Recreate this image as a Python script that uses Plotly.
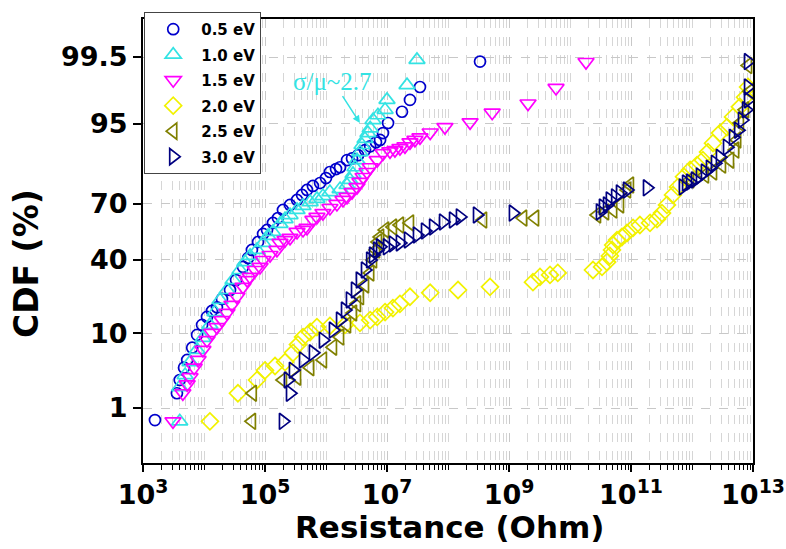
import plotly.graph_objects as go
from statistics import NormalDist

# ---------------- data (Resistance in Ohm, CDF in %) ----------------
r_05 = [1.57e3, 3.6e3, 4.0e3, 4.7e3, 5.3e3, 6.4e3, 7.7e3, 9.3e3, 1.12e4, 1.35e4, 1.63e4, 1.97e4,
        2.67e4, 3.35e4, 4.36e4, 5.3e4, 6.1e4, 7.7e4, 9.3e4, 1.08e5, 1.35e5, 1.63e5, 1.97e5, 2.57e5,
        3.35e5, 4.05e5, 4.88e5, 6.1e5, 8.0e5, 1.0e6, 1.16e6, 1.46e6, 1.70e6, 2.21e6, 2.67e6, 3.35e6,
        4.36e6, 5.3e6, 6.6e6, 7.7e6, 8.6e6, 1.04e7, 1.76e7, 2.38e7, 3.47e7, 3.35e8]
cdf_05 = [0.63, 1.7, 2.65, 3.9, 4.9, 6.9, 9.6, 12.2, 14.6, 16.6, 17.9, 21.1,
          24.9, 29.5, 36.1, 40.9, 45.3, 49.7, 54.2, 56.4, 60.2, 62.8, 67.0, 69.5,
          71.9, 74.2, 76.4, 78.1, 79.3, 81.2, 83.4, 84.4, 85.0, 87.2, 87.7, 88.6,
          89.9, 90.8, 91.7, 92.2, 93.5, 95.1, 96.5, 97.6, 98.45, 99.4]

r_10 = [4.0e3, 4.0e3, 4.9e3, 5.9e3, 7.7e3, 9.6e3, 1.25e4, 1.51e4, 1.83e4, 2.38e4, 2.99e4, 3.89e4,
        4.7e4, 5.7e4, 7.4e4, 9.3e4, 1.12e5, 1.35e5, 1.76e5, 2.13e5, 2.57e5, 3.35e5, 4.2e5, 5.5e5,
        7.1e5, 8.9e5, 1.16e6, 1.70e6, 2.21e6, 2.47e6, 2.77e6, 2.99e6, 3.22e6, 3.6e6, 3.89e6, 4.36e6,
        4.88e6, 5.3e6, 5.9e6, 7.1e6, 9.3e6, 1.0e7, 2.13e7, 3.10e7]
cdf_10 = [0.6, 2.1, 3.1, 4.6, 6.5, 8.9, 12.2, 16.2, 20.7, 24.9, 29.5, 34.5,
          38.7, 42.0, 45.3, 49.2, 53.1, 55.3, 59.7, 62.3, 64.4, 67.0, 69.0, 70.9,
          72.4, 73.7, 75.5, 76.8, 78.5, 80.5, 82.7, 85.0, 87.2, 89.4, 91.1, 92.4,
          93.5, 94.3, 95.5, 96.1, 96.7, 97.6, 98.55, 99.44]

r_15 = [3.1e3, 4.5e3, 5.3e3, 5.9e3, 6.9e3, 8.0e3, 9.6e3, 1.12e4, 1.35e4, 1.63e4, 1.97e4, 2.38e4,
        2.87e4, 3.47e4, 4.36e4, 5.1e4, 5.7e4, 6.9e4, 8.3e4, 9.3e4, 1.21e5, 1.57e5, 1.76e5, 2.13e5,
        2.57e5, 3.35e5, 4.2e5, 4.88e5, 6.1e5, 7.1e5, 8.9e5, 1.16e6, 1.51e6, 1.90e6, 2.21e6, 2.67e6,
        3.22e6, 3.6e6, 4.05e6, 4.7e6, 5.3e6, 6.9e6, 8.6e6, 1.12e7, 1.35e7, 1.63e7, 1.97e7, 2.38e7,
        2.87e7, 3.47e7, 5.1e7, 8.9e7, 2.30e8, 5.3e8, 2.05e9, 5.9e9, 1.83e10]
cdf_15 = [0.6, 1.7, 2.3, 2.9, 3.9, 4.9, 6.5, 8.4, 10.1, 11.6, 13.6, 15.9,
          18.8, 22.0, 26.3, 29.5, 31.0, 34.5, 36.1, 39.8, 42.5, 45.3, 49.2, 50.8,
          52.0, 55.3, 56.4, 57.5, 61.8, 63.4, 65.4, 68.0, 70.0, 71.9, 73.3, 75.5,
          77.6, 79.7, 81.6, 83.4, 85.0, 87.2, 89.1, 89.6, 89.9, 90.4, 90.8, 91.7,
          92.2, 92.7, 93.6, 94.5, 95.2, 96.4, 97.3, 98.4, 99.39]

r_20 = [1.25e4, 3.6e4, 7.4e4, 1.0e5, 1.46e5, 2.13e5, 2.87e5, 3.47e5, 4.2e5, 5.5e5, 7.1e5, 1.16e6,
        2.05e6, 3.6e6, 5.3e6, 6.9e6, 9.3e6, 1.25e7, 1.63e7, 2.38e7, 5.1e7, 1.46e8, 4.88e8, 2.47e9,
        3.22e9, 4.7e9, 6.3e9, 2.38e10, 3.35e10, 4.05e10, 4.5e10, 4.88e10, 5.1e10, 5.9e10, 7.1e10, 8.6e10,
        1.08e11, 1.40e11, 2.05e11, 2.67e11, 3.22e11, 3.89e11, 4.88e11, 5.9e11, 7.4e11, 9.3e11, 1.21e12,
        1.51e12, 1.83e12, 2.21e12, 2.87e12, 3.75e12, 4.7e12, 6.1e12, 7.4e12, 8.3e12]
cdf_20 = [0.6, 1.7, 2.65, 3.6, 4.1, 4.6, 6.0, 7.5, 9.1, 10.3, 11.6, 11.9,
          12.2, 12.8, 13.6, 14.6, 16.2, 17.6, 19.2, 22.0, 23.7, 24.9, 26.3, 28.5,
          31.0, 32.0, 33.0, 34.5, 36.1, 38.7, 42.0, 45.3, 48.0, 50.8, 52.5, 54.7,
          57.5, 59.1, 60.2, 62.3, 65.4, 69.5, 74.2, 77.7, 81.7, 84.1, 85.7,
          87.2, 89.4, 91.5, 93.5, 94.5, 95.9, 97.0, 97.8, 98.45]

r_25 = [6.1e4, 6.3e4, 1.97e5, 3.35e5, 5.5e5, 8.9e5, 1.30e6, 1.70e6, 2.21e6, 2.77e6, 3.22e6, 3.6e6,
        4.36e6, 5.3e6, 5.9e6, 6.6e6, 7.1e6, 7.7e6, 9.3e6, 1.25e7, 1.63e7, 2.38e7, 3.75e8, 1.70e9,
        2.67e9, 2.77e10, 3.75e10, 5.1e10, 6.6e10, 8.6e10, 9.6e10, 9.3e11, 1.63e12, 2.21e12, 3.10e12,
        4.2e12, 5.1e12, 5.5e12, 6.1e12, 7.4e12, 8.9e12, 8.3e12]
cdf_25 = [0.6, 1.7, 2.65, 2.9, 3.9, 4.9, 7.0, 9.1, 12.2, 15.9, 19.2, 22.0,
          27.2, 33.0, 39.8, 45.3, 49.7, 52.5, 56.4, 58.0, 59.1, 60.2, 61.8, 62.8,
          62.8, 64.4, 66.0, 67.0, 69.5, 76.4, 78.5, 80.5, 82.3, 83.4, 85.7,
          87.2, 89.9, 92.2, 95.1, 96.7, 98.2, 99.3]

r_30 = [1.97e5, 2.57e5, 2.38e5, 2.87e5, 4.2e5, 6.1e5, 8.9e5, 1.30e6, 1.70e6, 2.05e6, 2.47e6, 2.99e6,
        3.6e6, 4.36e6, 5.3e6, 5.9e6, 6.9e6, 7.7e6, 1.0e7, 1.25e7, 1.63e7, 2.21e7, 3.10e7, 4.2e7,
        5.7e7, 8.3e7, 1.21e8, 1.57e8, 2.99e8, 1.16e9, 3.10e10, 3.47e10, 4.05e10, 4.5e10, 5.5e10, 6.6e10,
        8.6e10, 1.83e11, 7.1e11, 8.0e11, 9.3e11, 1.12e12, 1.35e12, 1.63e12, 1.97e12, 2.38e12, 2.87e12,
        3.75e12, 4.7e12, 5.7e12, 6.6e12, 7.7e12, 8.3e12, 8.3e12, 8.3e12]
cdf_30 = [0.6, 1.7, 2.65, 3.6, 4.9, 6.0, 8.4, 10.8, 13.6, 16.9, 20.7, 24.9,
          29.5, 34.5, 39.8, 42.5, 45.3, 47.0, 47.0, 48.6, 49.2, 50.8, 53.6, 55.8,
          58.0, 60.7, 61.8, 63.4, 64.4, 65.4, 66.0, 68.5, 69.5, 71.9, 73.3, 75.1,
          76.4, 77.3, 77.7, 79.3, 79.7, 80.5, 82.0, 83.4, 84.7, 86.3, 88.0,
          90.6, 92.7, 94.0, 95.5, 96.7, 97.6, 98.45, 99.4]

series_names = ["0.5 eV", "1.0 eV", "1.5 eV", "2.0 eV", "2.5 eV", "3.0 eV"]
y_tick_values = [1, 10, 40, 70, 95, 99.5]
y_tick_labels = ["1", "10", "40", "70", "95", "99.5"]
x_label_exponents = [3, 5, 7, 9, 11, 13]

# ---------------- helpers ----------------
nd = NormalDist()


def probit(p):
    return nd.inv_cdf(p / 100.0)


styles = [
    ("circle-open", "#0000CC", 11),
    ("triangle-up-open", "#33E3E3", 14),
    ("triangle-down-open", "#FF00FF", 14),
    ("diamond-open", "#F2F200", 13),
    ("triangle-left-open", "#808000", 14),
    ("triangle-right-open", "#000080", 14),
]
data = [(r_05, cdf_05), (r_10, cdf_10), (r_15, cdf_15), (r_20, cdf_20), (r_25, cdf_25), (r_30, cdf_30)]

fig = go.Figure()
for i, (name, (rv, cv), (sym, col, size)) in enumerate(zip(series_names, data, styles)):
    fig.add_trace(go.Scatter(
        x=rv, y=[probit(v) for v in cv], mode="markers", name=name, legendgroup=f"g{i}",
        marker=dict(symbol=sym, size=size, color=col, line=dict(width=1.7, color=col)),
    ))

minor_x = [k * 10 ** e for e in range(3, 13) for k in range(2, 10)] + [10 ** e for e in (4, 6, 8, 10, 12)]

TF = "DejaVu Sans"
fig.update_layout(
    width=786, height=549,
    margin=dict(l=143, r=33, t=19, b=86, autoexpand=False),
    paper_bgcolor="white", plot_bgcolor="white",
    font=dict(family=TF, color="black"),
    legend=dict(x=0.002, y=1.016, xanchor="left", yanchor="top",
                bordercolor="#444444", borderwidth=1, bgcolor="white",
                font=dict(size=15, family=TF, color="black", weight="bold"),
                tracegroupgap=3, itemwidth=46),
    xaxis=dict(
        type="log", range=[3, 13], automargin=False,
        tickvals=[10 ** e for e in x_label_exponents],
        ticktext=[f"10<sup>{e}</sup>" for e in x_label_exponents],
        ticks="outside", ticklen=7, tickwidth=1.5, tickcolor="black",
        showline=True, linewidth=2, linecolor="black", mirror=True,
        showgrid=True, gridcolor="#c8c8c8", griddash="dash", gridwidth=1,
        tickfont=dict(size=27, family=TF, color="black", weight="bold"),
        minor=dict(tickvals=minor_x,
                   ticks="outside", ticklen=5, tickwidth=1.2, tickcolor="black",
                   showgrid=True, gridcolor="#d6d6d6", griddash="dash", gridwidth=1),
        zeroline=False,
    ),
    yaxis=dict(
        range=[-3.094, 3.107], automargin=False,
        tickvals=[probit(v) for v in y_tick_values], ticktext=y_tick_labels,
        ticks="outside", ticklen=8, tickwidth=1.5, tickcolor="black",
        showline=True, linewidth=2, linecolor="black", mirror=True,
        showgrid=True, gridcolor="#c8c8c8", griddash="dash", gridwidth=1,
        tickfont=dict(size=27, family=TF, color="black", weight="bold"),
        zeroline=False,
    ),
    annotations=[
        dict(text="CDF (%)", xref="paper", yref="paper", x=-0.192, y=0.45,
             textangle=-90, showarrow=False, xanchor="center", yanchor="middle",
             font=dict(size=33, family=TF, color="black", weight="bold")),
        dict(text="Resistance (Ohm)", xref="paper", yref="paper", x=0.503, y=-0.144,
             showarrow=False, xanchor="center", yanchor="middle",
             font=dict(size=31, family=TF, color="black", weight="bold")),
        dict(text="σ/μ~2.7", xref="x", yref="y", x=6.556, y=1.654,
             ax=-27, ay=-42, showarrow=True, arrowhead=2, arrowsize=1, arrowwidth=1.5,
             arrowcolor="#33E3E3",
             font=dict(size=25, family="Liberation Serif", color="#33E3E3")),
    ],
)

fig.write_html("out.html")
